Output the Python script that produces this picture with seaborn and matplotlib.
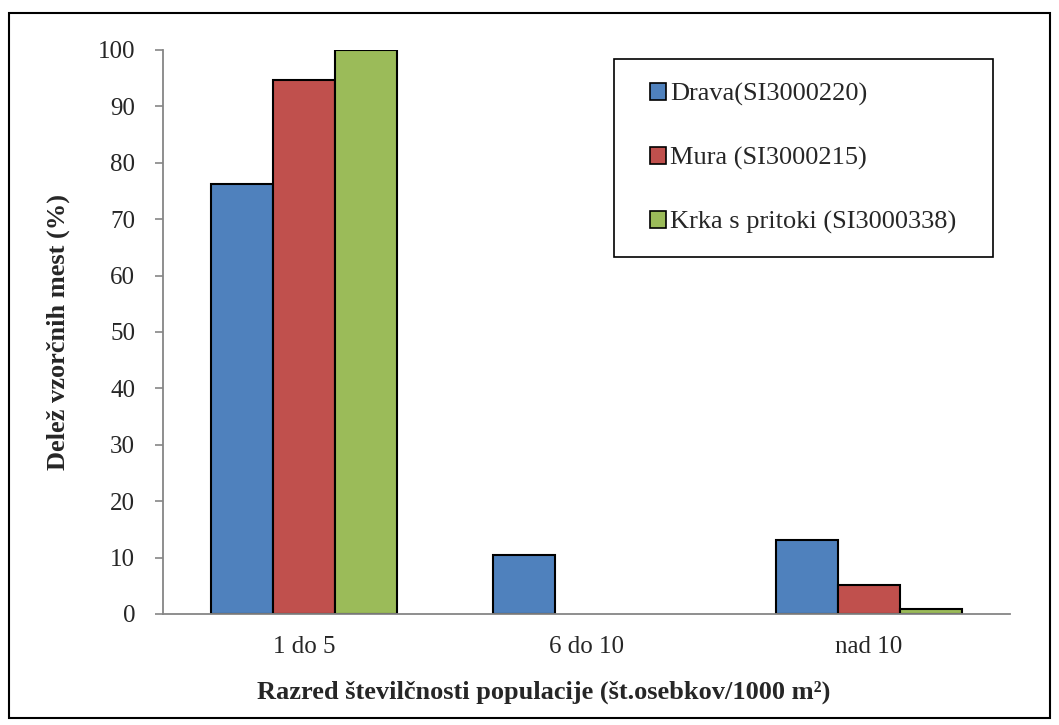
import matplotlib
matplotlib.use("Agg")
import matplotlib.pyplot as plt
import matplotlib.patches as mpatches
import seaborn as sns
import pandas as pd

categories = ["1 do 5", "6 do 10", "nad 10"]
series_names = ["Drava(SI3000220)", "Mura (SI3000215)", "Krka s pritoki (SI3000338)"]
drava = [76.3, 10.5, 13.1]
mura = [94.7, 0.0, 5.2]
krka = [100.0, 0.0, 0.9]
colors = ["#4F81BD", "#C0504D", "#9BBB59"]
y_ticks = list(range(0, 101, 10))

rows = []
for name, vals in zip(series_names, [drava, mura, krka]):
    for c, v in zip(categories, vals):
        rows.append({"cat": c, "series": name, "val": v})
df = pd.DataFrame(rows)

sns.set_theme(style="white")
plt.rcParams["font.family"] = ["Liberation Serif", "DejaVu Serif"]
FS = 18
FL = 19
W, H = 1059, 725

fig = plt.figure(figsize=(W/100, H/100), dpi=100)
ax = fig.add_axes([163/W, 1-614/H, (1010-163)/W, (614-50)/H])

sns.barplot(data=df, x="cat", y="val", hue="series", order=categories,
            hue_order=series_names, palette=colors, width=0.66, gap=0,
            edgecolor="black", linewidth=1.5, saturation=1, ax=ax, legend=False)
for p in ax.patches:
    if p.get_height() == 0:
        p.set_linewidth(0)

ax.set_ylim(0, 100)
ax.set_xlim(-0.5, 2.5)
ax.set_yticks(y_ticks)
ax.set_yticklabels([str(t) for t in y_ticks], fontsize=FS)
ax.set_xticks(range(len(categories)))
ax.set_xticklabels(categories, fontsize=FS)
ax.set_xticks([-0.5, 0.5, 1.5, 2.5], minor=True)
ax.tick_params(axis="x", which="major", length=0, pad=16)
ax.tick_params(axis="x", which="minor", length=7, width=1.2, color="#868686", direction="out")
ax.tick_params(axis="y", which="major", length=6, width=1.2, color="#868686", direction="out", left=True, pad=14)

for s in ["top", "right"]:
    ax.spines[s].set_visible(False)
for s in ["left", "bottom"]:
    ax.spines[s].set_color("#868686")
    ax.spines[s].set_linewidth(1.3)

ax.set_ylabel("Delež vzorčnih mest (%)", fontsize=FL, fontweight="bold")
ax.set_xlabel("Razred številčnosti populacije (št.osebkov/1000 m²)", fontsize=FL,
              fontweight="bold")
ax.yaxis.set_label_coords((70-163)/847, 0.5)
ax.xaxis.set_label_coords((543.5-163)/847, -(681-614)/564)

handles = [mpatches.Patch(facecolor=c, edgecolor="black", linewidth=1.2) for c in colors]
leg = fig.legend(handles, series_names, loc="upper left",
                 bbox_to_anchor=(650/W, 1-83/H), bbox_transform=fig.transFigure,
                 fontsize=FL, frameon=False,
                 handlelength=0.6, handleheight=0.6, handletextpad=0.15,
                 labelspacing=1.55, borderpad=0, borderaxespad=0)

fig.patches.append(mpatches.Rectangle((614/W, 1-257/H), (993-614)/W, (257-59)/H,
                                      transform=fig.transFigure, fill=True, facecolor="white",
                                      edgecolor="black", linewidth=1.2, zorder=1))
fig.patches.append(mpatches.Rectangle((9/W, 1-718/H), (1050-9)/W, (718-13)/H,
                                      transform=fig.transFigure, fill=False,
                                      edgecolor="black", linewidth=1.5))

fig.savefig("out.png", dpi=100, facecolor="white")
